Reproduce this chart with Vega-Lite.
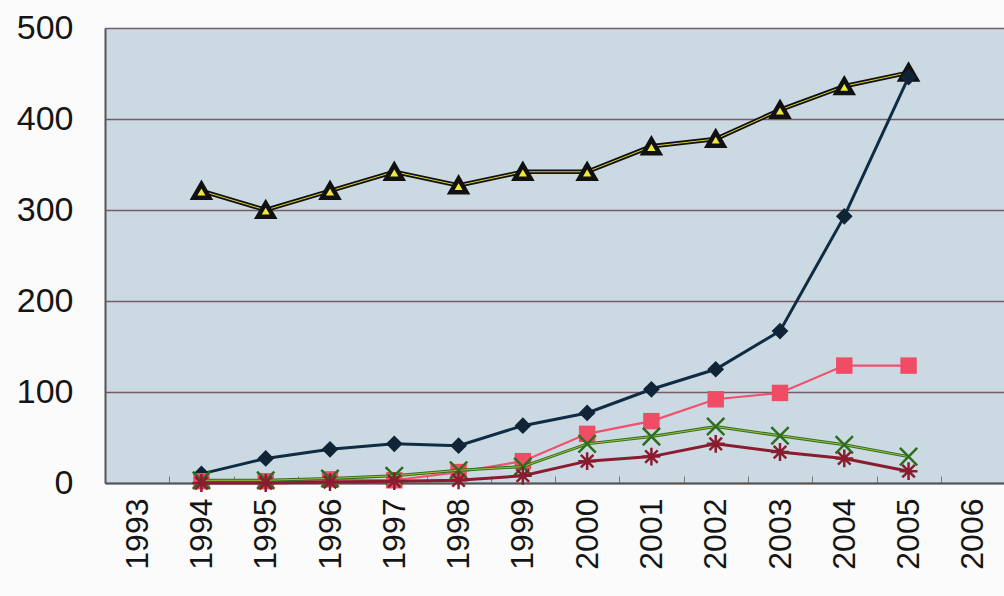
{
  "$schema": "https://vega.github.io/schema/vega-lite/v6.json",
  "autosize": {"type": "none"},
  "width": 900,
  "height": 455,
  "padding": {"left": 105, "top": 28, "right": 0, "bottom": 113},
  "background": "#fbfbfb",
  "config": {
    "view": {"fill": "#cbdae2", "stroke": null},
    "font": "Liberation Sans"
  },
  "datasets": {
    "d": [
      {"year": "1994", "s": "A", "v": 321}, {"year": "1995", "s": "A", "v": 300}, {"year": "1996", "s": "A", "v": 321},
      {"year": "1997", "s": "A", "v": 342}, {"year": "1998", "s": "A", "v": 327}, {"year": "1999", "s": "A", "v": 342},
      {"year": "2000", "s": "A", "v": 342}, {"year": "2001", "s": "A", "v": 370}, {"year": "2002", "s": "A", "v": 378},
      {"year": "2003", "s": "A", "v": 410}, {"year": "2004", "s": "A", "v": 436}, {"year": "2005", "s": "A", "v": 451},
      {"year": "1994", "s": "B", "v": 10}, {"year": "1995", "s": "B", "v": 27}, {"year": "1996", "s": "B", "v": 37},
      {"year": "1997", "s": "B", "v": 43}, {"year": "1998", "s": "B", "v": 41}, {"year": "1999", "s": "B", "v": 63},
      {"year": "2000", "s": "B", "v": 77}, {"year": "2001", "s": "B", "v": 103}, {"year": "2002", "s": "B", "v": 125},
      {"year": "2003", "s": "B", "v": 167}, {"year": "2004", "s": "B", "v": 293}, {"year": "2005", "s": "B", "v": 446},
      {"year": "1994", "s": "C", "v": 2}, {"year": "1995", "s": "C", "v": 2}, {"year": "1996", "s": "C", "v": 4},
      {"year": "1997", "s": "C", "v": 3}, {"year": "1998", "s": "C", "v": 12}, {"year": "1999", "s": "C", "v": 24},
      {"year": "2000", "s": "C", "v": 54}, {"year": "2001", "s": "C", "v": 68}, {"year": "2002", "s": "C", "v": 92},
      {"year": "2003", "s": "C", "v": 99}, {"year": "2004", "s": "C", "v": 129}, {"year": "2005", "s": "C", "v": 129},
      {"year": "1994", "s": "D", "v": 3}, {"year": "1995", "s": "D", "v": 3}, {"year": "1996", "s": "D", "v": 5},
      {"year": "1997", "s": "D", "v": 8}, {"year": "1998", "s": "D", "v": 14}, {"year": "1999", "s": "D", "v": 18},
      {"year": "2000", "s": "D", "v": 43}, {"year": "2001", "s": "D", "v": 51}, {"year": "2002", "s": "D", "v": 62},
      {"year": "2003", "s": "D", "v": 52}, {"year": "2004", "s": "D", "v": 42}, {"year": "2005", "s": "D", "v": 29},
      {"year": "1994", "s": "E", "v": 0}, {"year": "1995", "s": "E", "v": 0}, {"year": "1996", "s": "E", "v": 1},
      {"year": "1997", "s": "E", "v": 2}, {"year": "1998", "s": "E", "v": 3}, {"year": "1999", "s": "E", "v": 8},
      {"year": "2000", "s": "E", "v": 24}, {"year": "2001", "s": "E", "v": 29}, {"year": "2002", "s": "E", "v": 43},
      {"year": "2003", "s": "E", "v": 34}, {"year": "2004", "s": "E", "v": 27}, {"year": "2005", "s": "E", "v": 13}
    ]
  },
  "data": {"name": "d"},
  "encoding": {
    "x": {
      "field": "year", "type": "ordinal",
      "scale": {"type": "point", "padding": 0.5, "domain": ["1993","1994","1995","1996","1997","1998","1999","2000","2001","2002","2003","2004","2005","2006"]},
      "axis": {
        "title": null, "labelAngle": -90, "labelAlign": "right", "labelBaseline": "middle",
        "labelFontSize": 32, "labelFontWeight": 500, "labelColor": "#151515", "labelPadding": 22,
        "tickOffset": -32, "labelOffset": 32, "tickSize": -7, "tickColor": "#777777", "tickWidth": 1,
        "domainColor": "#555555", "domainWidth": 2, "grid": false
      }
    },
    "y": {
      "field": "v", "type": "quantitative",
      "scale": {"domain": [0, 500]},
      "axis": {
        "title": null, "values": [0, 100, 200, 300, 400, 500], "labelFontSize": 34, "labelColor": "#151515",
        "labelPadding": 32, "ticks": false, "domainColor": "#555555", "domainWidth": 2,
        "grid": true, "gridColor": "#7a5a66", "gridWidth": 1.3
      }
    }
  },
  "layer": [
    {"transform": [{"filter": "datum.s === 'A'"}], "mark": {"type": "line", "color": "#111111", "strokeWidth": 4.5}},
    {"transform": [{"filter": "datum.s === 'A'"}], "mark": {"type": "line", "color": "#d8d030", "strokeWidth": 1}},
    {"transform": [{"filter": "datum.s === 'A'"}], "mark": {"type": "point", "shape": "triangle-up", "size": 250, "filled": true, "fill": "#eee83a", "stroke": "#111111", "strokeWidth": 4.5, "opacity": 1}},
    {"transform": [{"filter": "datum.s === 'B'"}], "mark": {"type": "line", "color": "#0f2c45", "strokeWidth": 3}},
    {"transform": [{"filter": "datum.s === 'B'"}], "mark": {"type": "point", "shape": "diamond", "size": 280, "filled": true, "color": "#0f2436", "opacity": 1}},
    {"transform": [{"filter": "datum.s === 'C'"}], "mark": {"type": "line", "color": "#f2506c", "strokeWidth": 2.2}},
    {"transform": [{"filter": "datum.s === 'C'"}], "mark": {"type": "point", "shape": "square", "size": 270, "filled": true, "color": "#f04c66", "opacity": 1}},
    {"transform": [{"filter": "datum.s === 'D'"}], "mark": {"type": "line", "color": "#2c6e1e", "strokeWidth": 3}},
    {"transform": [{"filter": "datum.s === 'D'"}], "mark": {"type": "line", "color": "#c8d040", "strokeWidth": 0.8}},
    {"transform": [{"filter": "datum.s === 'D'"}], "mark": {"type": "point", "shape": "M-1,-1L1,1M-1,1L1,-1", "size": 300, "filled": false, "color": "#2c6e1e", "strokeWidth": 2.5, "opacity": 1}},
    {"transform": [{"filter": "datum.s === 'E'"}], "mark": {"type": "line", "color": "#8a1c30", "strokeWidth": 3}},
    {"transform": [{"filter": "datum.s === 'E'"}], "mark": {"type": "point", "shape": "M-1,0L1,0M0,-1L0,1M-0.7,-0.7L0.7,0.7M-0.7,0.7L0.7,-0.7", "size": 320, "filled": false, "color": "#8a1c30", "strokeWidth": 2.5, "opacity": 1}}
  ]
}
